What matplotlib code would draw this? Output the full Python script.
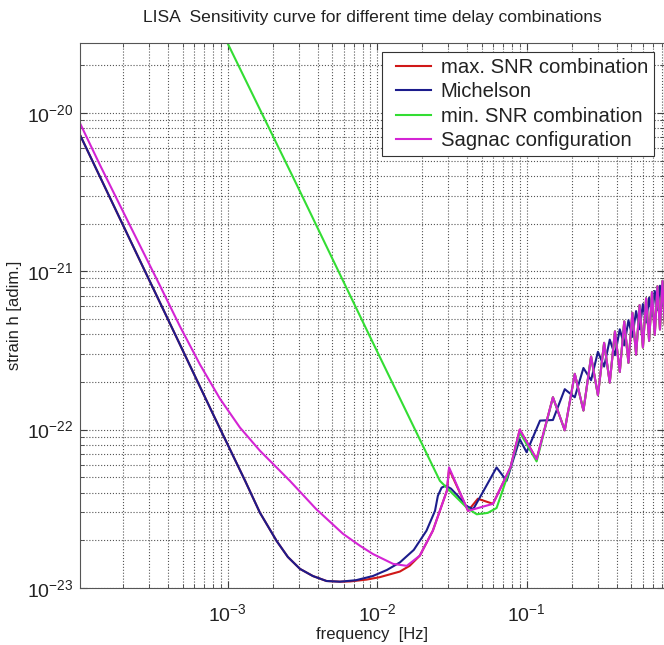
import numpy as np
import matplotlib.pyplot as plt
from matplotlib.lines import Line2D
from matplotlib.legend_handler import HandlerLine2D
from matplotlib.ticker import LogLocator, NullFormatter, FuncFormatter, FixedLocator

plt.rcParams['font.family'] = ['Liberation Sans', 'DejaVu Sans']
plt.rcParams['mathtext.default'] = 'regular'

# high frequency part shared by the Sagnac / max / min curves (Hz, strain)
hf_f = [0.15, 0.18, 0.21, 0.24, 0.27, 0.30, 0.33, 0.36, 0.39, 0.42, 0.45, 0.48,
        0.51, 0.54, 0.57, 0.60, 0.63, 0.66, 0.69, 0.72, 0.75, 0.78, 0.81, 0.84]
hf_h = [1.6e-22, 9.9e-23, 2.25e-22, 1.32e-22, 2.89e-22, 1.65e-22, 3.53e-22, 1.98e-22,
        4.17e-22, 2.31e-22, 4.82e-22, 2.64e-22, 5.46e-22, 2.97e-22, 6.1e-22, 3.3e-22,
        6.74e-22, 3.63e-22, 7.38e-22, 3.96e-22, 8.03e-22, 4.29e-22, 8.67e-22, 4.6e-22]

# low frequency part common to Michelson and max. SNR
lf_f = [1.03e-4, 2e-4, 4e-4, 8e-4, 1.31e-3, 1.645e-3, 2.13e-3, 2.53e-3, 3.05e-3, 3.72e-3,
        4.59e-3, 5.64e-3]
lf_h = [7.26e-21, 1.95e-21, 4.95e-22, 1.25e-22, 4.75e-23, 2.99e-23, 1.98e-23, 1.57e-23,
        1.32e-23, 1.19e-23, 1.107e-23, 1.096e-23]

# Michelson
mich_f = lf_f + [7.22e-3, 9.37e-3, 1.164e-2, 1.42e-2, 1.76e-2, 2.14e-2, 2.44e-2, 2.55e-2,
                 2.7e-2, 2.87e-2, 3.12e-2, 3.47e-2, 3.93e-2, 4.4e-2, 5.0e-2, 6.3e-2,
                 7.35e-2, 9.0e-2, 0.10, 0.123, 0.15, 0.18, 0.21, 0.24, 0.27, 0.30, 0.33,
                 0.36, 0.39, 0.42, 0.45, 0.48, 0.51, 0.54, 0.57, 0.60, 0.63, 0.66, 0.69,
                 0.72, 0.75, 0.78, 0.81, 0.84]
mich_h = lf_h + [1.12e-23, 1.19e-23, 1.30e-23, 1.45e-23, 1.74e-23, 2.30e-23, 3.07e-23,
                 3.82e-23, 4.3e-23, 4.42e-23, 4.24e-23, 3.82e-23, 3.3e-23, 3.15e-23, 3.9e-23,
                 5.77e-23, 4.75e-23, 8.7e-23, 7.2e-23, 1.14e-22, 1.15e-22, 1.8e-22, 1.6e-22,
                 2.45e-22, 2.05e-22, 3.1e-22, 2.5e-22, 3.7e-22, 2.95e-22, 4.3e-22, 3.4e-22,
                 4.9e-22, 3.85e-22, 5.6e-22, 4.3e-22, 6.2e-22, 4.75e-22, 6.8e-22, 5.2e-22,
                 7.5e-22, 5.7e-22, 8.1e-22, 6.1e-22, 8.7e-22]

# Sagnac
sag_f = [1.03e-4, 1.40e-4, 2.22e-4, 3.52e-4, 4.80e-4, 6.53e-4, 8.88e-4, 1.21e-3, 1.645e-3,
         2.61e-3, 3.90e-3, 5.91e-3, 7.67e-3, 9.37e-3, 1.28e-2, 1.58e-2, 1.93e-2, 2.36e-2,
         2.7e-2, 2.93e-2, 3.03e-2, 4.06e-2, 5.96e-2, 7.8e-2, 9.0e-2, 0.1167] + hf_f
sag_h = [8.6e-21, 4.69e-21, 1.95e-21, 8.15e-22, 4.49e-22, 2.58e-22, 1.57e-22, 1.03e-22,
         7.36e-23, 4.75e-23, 3.16e-23, 2.2e-23, 1.85e-23, 1.64e-23, 1.42e-23, 1.38e-23,
         1.60e-23, 2.30e-23, 3.3e-23, 4.11e-23, 5.77e-23, 3.07e-23, 3.4e-23, 5.78e-23,
         1.0e-22, 6.5e-23] + hf_h

# max. SNR combination
max_f = lf_f + [6.59e-3, 8.5e-3, 1.04e-2, 1.42e-2, 1.65e-2, 1.93e-2, 2.36e-2, 2.7e-2,
                2.93e-2, 3.03e-2, 4.06e-2, 4.72e-2, 5.96e-2, 7.8e-2, 9.0e-2, 0.1167] + hf_f
max_h = lf_h + [1.10e-23, 1.13e-23, 1.17e-23, 1.27e-23, 1.38e-23, 1.60e-23, 2.30e-23,
                3.3e-23, 4.11e-23, 5.64e-23, 3.07e-23, 3.66e-23, 3.4e-23, 5.78e-23,
                1.0e-22, 6.5e-23] + hf_h

# min. SNR combination
min_f = [9.4e-4, 3.05e-3, 8.93e-3, 2.63e-2, 3.31e-2, 4.0e-2, 4.64e-2, 5.5e-2, 6.3e-2,
         7.8e-2, 9.0e-2, 0.1167] + hf_f
min_h = [3.1e-20, 3.19e-21, 3.89e-22, 4.75e-23, 3.82e-23, 3.2e-23, 2.92e-23, 2.98e-23,
         3.2e-23, 5.78e-23, 9.6e-23, 6.3e-23] + hf_h

fig = plt.figure(figsize=(6.64, 6.45), dpi=100)
ax = fig.add_axes([80/664, 57/645, 584/664, 545/645])

ax.loglog(max_f, max_h, color='#d01818', lw=1.5, label='max. SNR combination')
ax.loglog(mich_f, mich_h, color='#1c1c8c', lw=1.5, label='Michelson')
ax.loglog(min_f, min_h, color='#33dd33', lw=1.5, label='min. SNR combination')
ax.loglog(sag_f, sag_h, color='#d424d4', lw=1.5, label='Sagnac configuration')

ax.set_xlim(1.03e-4, 0.83)
ax.set_ylim(1e-23, 2.76e-20)

def pow10(v, pos):
    return r'$\mathregular{10^{%d}}$' % int(round(np.log10(v)))

ax.xaxis.set_major_locator(FixedLocator([1e-3, 1e-2, 1e-1]))
ax.yaxis.set_major_locator(FixedLocator([1e-23, 1e-22, 1e-21, 1e-20]))
for axis in (ax.xaxis, ax.yaxis):
    axis.set_minor_locator(LogLocator(base=10, subs=np.arange(2, 10)))
    axis.set_major_formatter(FuncFormatter(pow10))
    axis.set_minor_formatter(NullFormatter())

ax.tick_params(which='both', direction='in', top=True, right=True, colors='#404040')
ax.tick_params(which='major', length=5, labelsize=14, labelcolor='#222222', pad=5)
ax.tick_params(axis='x', which='major', pad=11)
ax.tick_params(which='minor', length=3)
ax.grid(True, which='both', linestyle=':', color='#555555', lw=0.8)
for s in ax.spines.values():
    s.set_color('#555555')

ax.set_title('LISA  Sensitivity curve for different time delay combinations',
             fontsize=12.6, color='#222222', pad=15)
ax.set_xlabel('frequency  [Hz]', fontsize=12, color='#222222', labelpad=1)
ax.set_ylabel('strain h [adim.]', fontsize=12, color='#222222', labelpad=3)

leg = ax.legend(loc='upper left', bbox_to_anchor=(0.517, 0.984), borderaxespad=0,
                fontsize=14.6, labelspacing=0.27, handlelength=2.1, handletextpad=0.5,
                borderpad=0.3, fancybox=False, framealpha=1,
                handler_map={Line2D: HandlerLine2D(xpad=0.4)})
leg.get_frame().set_edgecolor('#333333')
leg.get_frame().set_linewidth(0.8)
for t in leg.get_texts():
    t.set_color('#222222')

fig.savefig('out.png', dpi=100)
